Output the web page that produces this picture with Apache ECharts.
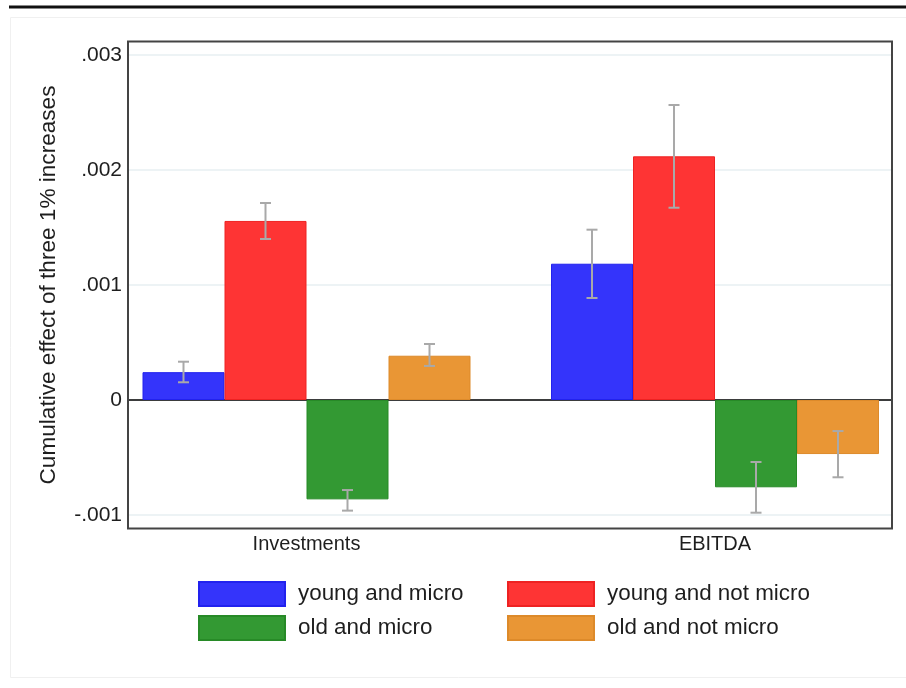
<!DOCTYPE html>
<html>
<head>
<meta charset="utf-8">
<script src="https://cdn.jsdelivr.net/npm/echarts@6/dist/echarts.min.js"></script>
<style>
  html, body { margin: 0; padding: 0; background: #ffffff; }
  #chart { width: 906px; height: 688px; }
</style>
</head>
<body>
<div id="chart"></div>
<script>
// Outcome categories and group labels
const categories = ['Investments', 'EBITDA'];
const groupNames = ['young and micro', 'young and not micro', 'old and micro', 'old and not micro'];

// Point estimates (cumulative effect of three 1% increases)
const youngMicro    = [0.000242, 0.001185];
const youngNotMicro = [0.001557, 0.002119];
const oldMicro      = [-0.000864, -0.000759];
const oldNotMicro   = [0.000385, -0.000470];

// Confidence interval bounds
const youngMicroLow     = [0.000154, 0.000887];
const youngMicroHigh    = [0.000333, 0.001481];
const youngNotMicroLow  = [0.001400, 0.001672];
const youngNotMicroHigh = [0.001713, 0.002565];
const oldMicroLow       = [-0.000962, -0.000980];
const oldMicroHigh      = [-0.000783, -0.000539];
const oldNotMicroLow    = [0.000296, -0.000672];
const oldNotMicroHigh   = [0.000487, -0.000270];

// Y axis tick values
const yTicks = [-0.001, 0, 0.001, 0.002, 0.003];

const estimates = [youngMicro, youngNotMicro, oldMicro, oldNotMicro];
const lows  = [youngMicroLow, youngNotMicroLow, oldMicroLow, oldNotMicroLow];
const highs = [youngMicroHigh, youngNotMicroHigh, oldMicroHigh, oldNotMicroHigh];

const fills   = ['#3434fb', '#fe3434', '#339933', '#e99635'];
const borders = ['#2222ee', '#ee2222', '#278a27', '#dd8a2a'];

const FONT = 'Liberation Sans, Arial, Helvetica, sans-serif';
const TEXT = '#1e1e1e';
const BAR_W = 82;

function fmtTick(v) {
  if (Math.abs(v) < 1e-12) return '0';
  const s = v.toFixed(3);
  return s.replace(/^(-?)0\./, '$1.');
}

const chart = echarts.init(document.getElementById('chart'), null, { renderer: 'canvas' });

const barSeries = groupNames.map((name, k) => ({
  name: name,
  type: 'bar',
  xAxisIndex: 1,
  yAxisIndex: 1,
  data: estimates[k],
  barWidth: BAR_W,
  barGap: '0%',
  itemStyle: { color: fills[k], borderColor: borders[k], borderWidth: 1 },
  emphasis: { disabled: true },
  z: 3
}));

// Error bars: one custom series, offset per group to sit on each bar's centre
const errData = [];
for (let k = 0; k < 4; k++) {
  for (let c = 0; c < categories.length; c++) {
    errData.push([c, lows[k][c], highs[k][c], k]);
  }
}

const errorSeries = {
  type: 'custom',
  xAxisIndex: 1,
  yAxisIndex: 1,
  data: errData,
  z: 5,
  silent: true,
  renderItem: function (params, api) {
    const c = api.value(0);
    const k = api.value(3);
    const lo = api.coord([c, api.value(1)]);
    const hi = api.coord([c, api.value(2)]);
    const x = lo[0] + (k - 1.5) * BAR_W;
    const cap = 5.5;
    const style = { stroke: '#a9a9a9', lineWidth: 2, fill: null };
    return {
      type: 'group',
      children: [
        { type: 'line', shape: { x1: x, y1: lo[1], x2: x, y2: hi[1] }, style: style },
        { type: 'line', shape: { x1: x - cap, y1: lo[1], x2: x + cap, y2: lo[1] }, style: style },
        { type: 'line', shape: { x1: x - cap, y1: hi[1], x2: x + cap, y2: hi[1] }, style: style }
      ]
    };
  }
};

const option = {
  backgroundColor: '#ffffff',
  animation: false,
  grid: [
    // frame grid: value axis, gridlines and zero line
    { left: 128, right: 14, top: 55, height: 460, containLabel: false, outerBoundsMode: 'none' },
    // bar grid: category placement of the two groups
    { left: 102.25, width: 817, top: 55, height: 460, containLabel: false, outerBoundsMode: 'none' }
  ],
  xAxis: [
    {
      type: 'category', gridIndex: 0, data: categories,
      axisLine: { show: true, onZero: true, lineStyle: { color: '#000000', width: 1.5 } },
      axisTick: { show: false }, axisLabel: { show: false }, splitLine: { show: false }
    },
    {
      type: 'category', gridIndex: 1, data: categories,
      axisLine: { show: false }, axisTick: { show: false },
      axisLabel: { show: true, margin: 19, fontFamily: FONT, fontSize: 20, color: TEXT },
      splitLine: { show: false }
    }
  ],
  yAxis: [
    {
      type: 'value', gridIndex: 0, min: -0.001, max: 0.003, interval: 0.001,
      axisLine: { show: false }, axisTick: { show: false },
      axisLabel: { margin: 6, fontFamily: FONT, fontSize: 21, color: TEXT, formatter: fmtTick },
      splitLine: { show: true, lineStyle: { color: '#e7eff2', width: 1.5 } },
      name: 'Cumulative effect of three 1% increases',
      nameLocation: 'middle', nameGap: 68, nameRotate: 90,
      nameTextStyle: { fontFamily: FONT, fontSize: 22.6, color: TEXT }
    },
    {
      type: 'value', gridIndex: 1, min: -0.001, max: 0.003, interval: 0.001,
      show: false
    }
  ],
  legend: [
    {
      orient: 'vertical', left: 193, top: 576, itemWidth: 86, itemHeight: 24, itemGap: 8,
      icon: 'rect', data: [groupNames[0], groupNames[2]], selectedMode: false,
      textStyle: { fontFamily: FONT, fontSize: 22.4, color: TEXT, padding: [0, 0, 0, 8] }
    },
    {
      orient: 'vertical', left: 502, top: 576, itemWidth: 86, itemHeight: 24, itemGap: 8,
      icon: 'rect', data: [groupNames[1], groupNames[3]], selectedMode: false,
      textStyle: { fontFamily: FONT, fontSize: 22.4, color: TEXT, padding: [0, 0, 0, 8] }
    }
  ],
  graphic: [
    { type: 'rect', shape: { x: 9, y: 5.5, width: 897, height: 3 }, style: { fill: '#111111' }, z: 10 },
    { type: 'rect', shape: { x: 10.5, y: 17.5, width: 905, height: 660 },
      style: { fill: null, stroke: '#f0f0f0', lineWidth: 1 }, z: 0 },
    { type: 'rect', shape: { x: 128, y: 41.5, width: 764, height: 487 },
      style: { fill: null, stroke: '#444444', lineWidth: 2 }, z: 20 }
  ],
  series: barSeries.concat([errorSeries])
};

chart.setOption(option);
</script>
</body>
</html>
